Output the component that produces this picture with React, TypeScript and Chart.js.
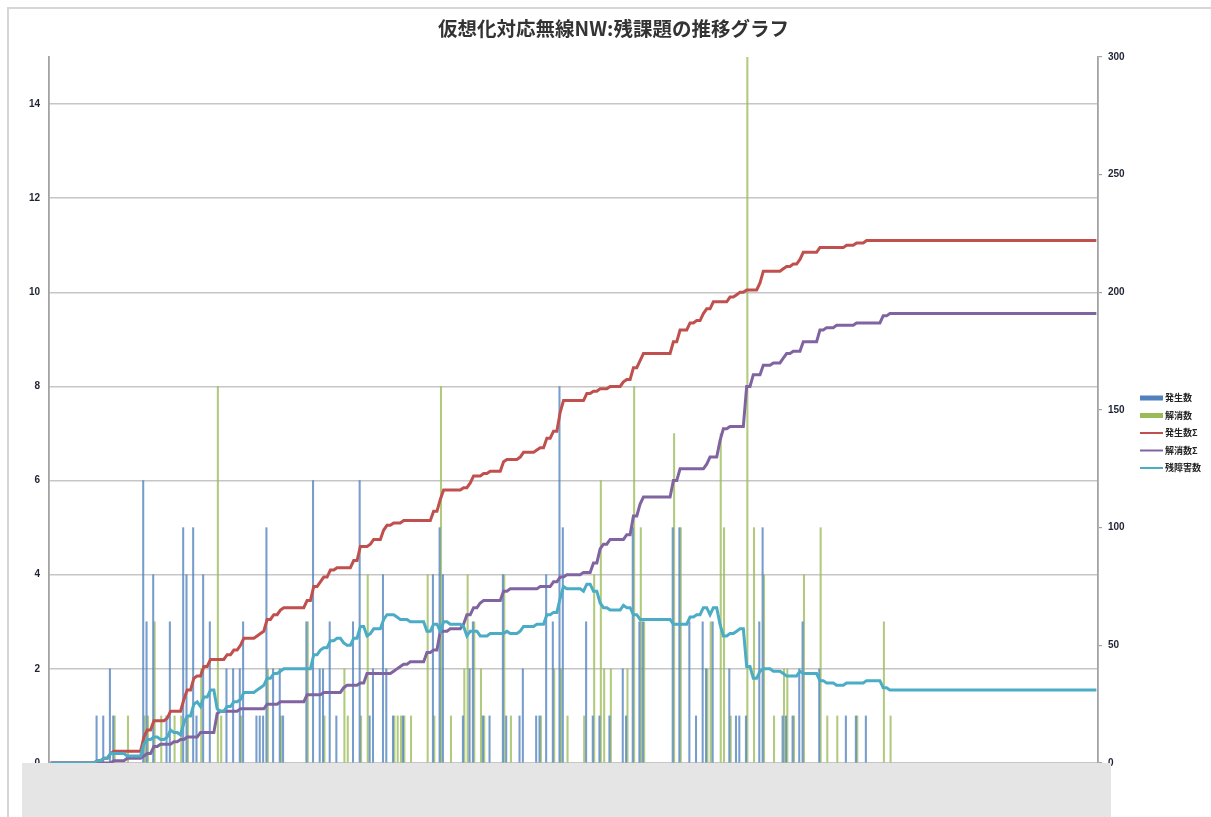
import { useEffect, useRef } from "react";
import { Chart, registerables } from "chart.js";

Chart.register(...registerables);

// ---- data (day index -> count) ----
const DAY_COUNT = 315;
const dayLabels: string[] = Array.from({ length: DAY_COUNT }, (_, i) => `Day ${i + 1}`);

const issuedDay = [14, 16, 18, 19, 28, 29, 31, 35, 36, 40, 41, 43, 44, 46, 48, 53, 55, 57, 58, 62, 63, 64, 65, 67, 69, 70, 77, 79, 81, 82, 84, 86, 91, 93, 96, 97, 100, 101, 103, 106, 115, 117, 118, 124, 126, 127, 130, 132, 136, 137, 141, 142, 146, 147, 149, 151, 153, 154, 161, 163, 165, 168, 172, 173, 175, 177, 178, 187, 189, 192, 194, 196, 197, 199, 204, 206, 207, 209, 213, 214, 220, 221, 223, 225, 226, 231, 239, 242, 245];
const issuedCount = [1, 1, 2, 1, 6, 3, 4, 1, 3, 5, 4, 5, 1, 4, 3, 2, 2, 2, 3, 1, 1, 1, 5, 2, 2, 1, 3, 6, 2, 2, 3, 1, 3, 6, 1, 2, 4, 2, 1, 1, 4, 5, 4, 1, 2, 3, 1, 1, 4, 1, 1, 2, 1, 1, 4, 3, 8, 5, 3, 1, 1, 1, 2, 1, 5, 3, 3, 5, 5, 3, 1, 3, 2, 3, 2, 1, 1, 1, 3, 5, 1, 1, 1, 2, 3, 2, 1, 1, 1];

const resolvedDay = [19, 23, 28, 29, 31, 33, 37, 39, 41, 45, 50, 51, 57, 65, 69, 77, 82, 88, 89, 93, 95, 103, 104, 105, 106, 108, 113, 115, 117, 120, 124, 125, 127, 129, 130, 136, 138, 147, 151, 153, 155, 160, 163, 165, 166, 168, 173, 175, 177, 178, 187, 189, 197, 198, 201, 202, 204, 209, 211, 214, 217, 220, 221, 223, 226, 231, 233, 236, 242, 250, 252];
const resolvedCount = [1, 1, 1, 1, 3, 1, 1, 1, 1, 2, 8, 1, 1, 2, 1, 3, 1, 2, 1, 1, 4, 1, 1, 1, 1, 1, 4, 1, 8, 1, 2, 4, 3, 2, 1, 4, 1, 1, 2, 2, 1, 1, 4, 6, 2, 2, 2, 8, 5, 3, 7, 5, 2, 3, 7, 5, 1, 17, 5, 4, 1, 2, 2, 1, 4, 5, 1, 1, 1, 3, 1];

const leftTicks = [0, 2, 4, 6, 8, 10, 12, 14];
const rightTicks = [0, 50, 100, 150, 200, 250, 300];

const TITLE = "仮想化対応無線NW:残課題の推移グラフ";
const seriesNames = ["発生数", "解消数", "発生数Σ", "解消数Σ", "残障害数"];
const seriesColors = ["#4F81BD", "#9BBB59", "#C0504D", "#8064A2", "#4BACC6"];

function toDaily(days: number[], counts: number[]): number[] {
  const s = new Array(DAY_COUNT).fill(0);
  days.forEach((d, k) => {
    s[d] += counts[k];
  });
  return s;
}
function runningTotal(s: number[]): number[] {
  let t = 0;
  return s.map((v) => (t += v));
}

const legendPlugin = {
  id: "customLegend",
  afterDraw(chart: any) {
    const ctx = chart.ctx;
    ctx.save();
    const x0 = 1140;
    const ys = [398, 415.5, 433, 450.5, 468];
    ctx.font = "bold 9px 'Noto Sans CJK JP', sans-serif";
    ctx.textBaseline = "middle";
    seriesNames.forEach((name, i) => {
      const y = ys[i];
      if (i < 2) {
        ctx.fillStyle = seriesColors[i];
        ctx.fillRect(x0, y - 2.5, 23, 5);
      } else {
        ctx.strokeStyle = seriesColors[i];
        ctx.lineWidth = 2;
        ctx.beginPath();
        ctx.moveTo(x0, y);
        ctx.lineTo(x0 + 23, y);
        ctx.stroke();
      }
      ctx.fillStyle = "#222";
      ctx.fillText(name, x0 + 25, y);
    });
    ctx.restore();
  },
};

const overlayPlugin = {
  id: "overlayBox",
  afterDraw(chart: any) {
    const ctx = chart.ctx;
    ctx.save();
    ctx.fillStyle = "#e5e5e5";
    ctx.fillRect(22, 763, 1089, 54);
    ctx.strokeStyle = "#d6d6d6";
    ctx.lineWidth = 2;
    ctx.beginPath();
    ctx.moveTo(8, 817);
    ctx.lineTo(8, 8);
    ctx.lineTo(1211, 8);
    ctx.stroke();
    ctx.restore();
  },
};

export default function App() {
  const ref = useRef<HTMLCanvasElement | null>(null);

  useEffect(() => {
    if (!ref.current) return;
    const issued = toDaily(issuedDay, issuedCount);
    const resolved = toDaily(resolvedDay, resolvedCount);
    const issuedSum = runningTotal(issued);
    const resolvedSum = runningTotal(resolved);
    const remaining = issuedSum.map((v, i) => v - resolvedSum[i]);

    const chart = new Chart(ref.current, {
      type: "bar",
      data: {
        labels: dayLabels,
        datasets: [
          {
            type: "bar",
            label: seriesNames[0],
            data: issued.map((v) => (v ? v : null)),
            backgroundColor: "rgba(79,129,189,0.78)",
            barThickness: 1.4,
            yAxisID: "y",
            order: 2,
          },
          {
            type: "bar",
            label: seriesNames[1],
            data: resolved.map((v) => (v ? v : null)),
            backgroundColor: "rgba(155,187,89,0.78)",
            barThickness: 1.4,
            yAxisID: "y",
            order: 2,
          },
          {
            type: "line",
            label: seriesNames[2],
            data: issuedSum,
            borderColor: seriesColors[2],
            borderWidth: 3,
            pointRadius: 0,
            tension: 0,
            yAxisID: "y1",
            order: 1,
          },
          {
            type: "line",
            label: seriesNames[3],
            data: resolvedSum,
            borderColor: seriesColors[3],
            borderWidth: 3,
            pointRadius: 0,
            tension: 0,
            yAxisID: "y1",
            order: 1,
          },
          {
            type: "line",
            label: seriesNames[4],
            data: remaining,
            borderColor: seriesColors[4],
            borderWidth: 3,
            pointRadius: 0,
            tension: 0,
            yAxisID: "y1",
            order: 0,
          },
        ] as any,
      },
      options: {
        responsive: false,
        animation: false,
        layout: { padding: { left: 16, right: 0, top: 0, bottom: 54 } },
        plugins: {
          legend: { display: false },
          tooltip: { enabled: false },
          title: {
            display: true,
            text: TITLE,
            color: "#333",
            font: { family: "'Noto Sans CJK JP', sans-serif", size: 19.5, weight: "bold" },
            padding: { top: 17, bottom: 16.6 },
          },
        },
        scales: {
          x: {
            type: "category",
            display: false,
            offset: true,
            grid: { display: false },
          },
          y: {
            position: "left",
            min: 0,
            max: 15,
            afterBuildTicks: (scale: any) => {
              scale.ticks = leftTicks.map((v) => ({ value: v }));
            },
            afterFit: (scale: any) => {
              scale.width = 33;
            },
            ticks: {
              padding: 9,
              color: "#1e2433",
              font: { family: "'Liberation Sans', Arial, sans-serif", size: 10, weight: "bold" },
            },
            grid: { color: "#c6c6c6", lineWidth: 1.6, drawTicks: false },
            border: { display: true, color: "#a3a3a3", width: 1.8 },
          },
          y1: {
            position: "right",
            min: 0,
            max: 300,
            afterBuildTicks: (scale: any) => {
              scale.ticks = rightTicks.map((v) => ({ value: v }));
            },
            afterFit: (scale: any) => {
              scale.width = 113;
            },
            ticks: {
              padding: 6,
              color: "#1e2433",
              font: { family: "'Liberation Sans', Arial, sans-serif", size: 10, weight: "bold" },
            },
            grid: { drawOnChartArea: false, drawTicks: true, tickLength: 4, color: "#a3a3a3", lineWidth: 1.2 },
            border: { display: true, color: "#a3a3a3", width: 1.8 },
          },
        },
      } as any,
      plugins: [legendPlugin, overlayPlugin],
    });
    return () => chart.destroy();
  }, []);

  return (
    <div style={{ position: "fixed", left: 0, top: 0, width: 1211, height: 817, background: "#fff" }}>
      <canvas ref={ref} width={1211} height={817} style={{ display: "block" }} />
    </div>
  );
}
